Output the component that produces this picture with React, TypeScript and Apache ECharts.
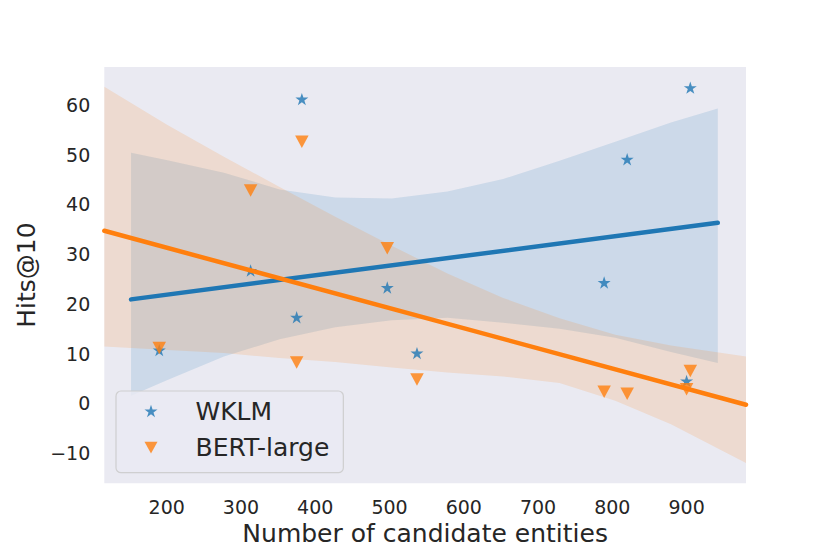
import React, { useEffect, useRef } from "react";
import * as echarts from "echarts";

// ---- data ----
const xValues = [190, 313, 375, 382, 497, 537, 789, 820, 900, 905];
const wklmHits = [10.7, 26.7, 17.3, 61.2, 23.3, 10.1, 24.3, 49.1, 4.5, 63.5];
const bertHits = [11.1, 42.8, 8.2, 52.6, 31.2, 4.8, 2.3, 1.9, 2.8, 6.5];

const wklmFitX = [152, 942];
const wklmFitY = [20.9, 36.3];
const bertFitX = [116, 980];
const bertFitY = [34.7, -0.3];

const wklmBandX = [152, 201, 277, 352, 427, 503, 578, 653, 729, 804, 879, 942];
const wklmUpper = [50.4, 48.9, 46.4, 43.0, 41.4, 41.2, 42.6, 45.1, 48.8, 52.6, 56.5, 59.3];
const wklmLower = [1.5, 4.7, 9.4, 12.9, 15.3, 16.7, 17.2, 16.2, 15.0, 13.2, 10.3, 8.1];

const bertBandX = [116, 201, 277, 352, 427, 503, 578, 653, 729, 804, 879, 980];
const bertUpper = [63.7, 56.0, 49.6, 43.5, 37.5, 31.7, 26.1, 21.2, 17.1, 13.8, 11.6, 9.4];
const bertLower = [11.4, 10.7, 10.1, 9.1, 8.3, 7.2, 6.2, 5.4, 4.1, 0.5, -4.2, -12.0];

const xTicks = [200, 300, 400, 500, 600, 700, 800, 900];
const yTicks = [-10, 0, 10, 20, 30, 40, 50, 60];

const seriesNames = ["WKLM", "BERT-large"];
const xAxisTitle = "Number of candidate entities";
const yAxisTitle = "Hits@10";

const BLUE = "#1f77b4";
const ORANGE = "#ff7f0e";
const FONT = "DejaVu Sans";
const TEXT = "#262626";

const starPath = (() => {
  let d = "";
  for (let k = 0; k < 10; k++) {
    const r = k % 2 ? 0.382 : 1;
    const a = ((-90 + k * 36) * Math.PI) / 180;
    d += (k ? "L" : "M") + (r * Math.cos(a)).toFixed(4) + "," + (r * Math.sin(a)).toFixed(4);
  }
  return "path://" + d + "Z";
})();
const triDownPath = "path://M0,0L2,0L1,1.8Z";

function band(name: string, xs: number[], up: number[], lo: number[], color: string) {
  return {
    type: "custom",
    name,
    silent: true,
    clip: true,
    data: [[xs[0], up[0]]],
    renderItem: (_p: any, api: any) => {
      const pts: number[][] = [];
      for (let i = 0; i < xs.length; i++) pts.push(api.coord([xs[i], up[i]]));
      for (let i = xs.length - 1; i >= 0; i--) pts.push(api.coord([xs[i], lo[i]]));
      return {
        type: "polygon",
        shape: { points: pts },
        style: { fill: color, opacity: 0.15 },
      };
    },
  };
}

export default function App() {
  const ref = useRef<HTMLDivElement>(null);
  useEffect(() => {
    if (!ref.current) return;
    const chart = echarts.init(ref.current, undefined, { renderer: "svg" });
    chart.setOption({
      animation: false,
      textStyle: { fontFamily: FONT },
      grid: {
        left: 104.3,
        right: 84,
        top: 67,
        bottom: 70.7,
        show: true,
        backgroundColor: "#EAEAF2",
        borderWidth: 0,
      },
      xAxis: {
        type: "value",
        min: 116,
        max: 980,
        name: xAxisTitle,
        nameLocation: "middle",
        nameGap: 38,
        nameTextStyle: { fontFamily: FONT, fontSize: 25, color: TEXT },
        axisLine: { show: false },
        axisTick: { show: false },
        splitLine: { show: false },
        axisLabel: {
          customValues: xTicks,
          fontFamily: FONT,
          fontSize: 19,
          color: TEXT,
          margin: 14,
        },
      },
      yAxis: {
        type: "value",
        min: -16.1,
        max: 67.65,
        name: yAxisTitle,
        nameLocation: "middle",
        nameGap: 64,
        nameTextStyle: { fontFamily: FONT, fontSize: 25, color: TEXT },
        axisLine: { show: false },
        axisTick: { show: false },
        splitLine: { show: false },
        axisLabel: {
          customValues: yTicks,
          fontFamily: FONT,
          fontSize: 19,
          color: TEXT,
          margin: 14,
          formatter: (v: number) => (v < 0 ? "\u2212" + Math.abs(v) : String(v)),
        },
      },
      legend: {
        data: seriesNames,
        orient: "vertical",
        left: 116,
        top: 391,
        itemWidth: 13,
        itemHeight: 13,
        itemGap: 10.7,
        padding: [7, 14, 12, 28.5],
        backgroundColor: "rgba(234,234,242,0.8)",
        borderColor: "rgba(204,204,204,0.9)",
        borderWidth: 1.2,
        borderRadius: 5,
        textStyle: {
          fontFamily: FONT,
          fontSize: 25,
          color: TEXT,
          lineHeight: 26,
          padding: [0, 0, 0, 33],
        },
      },
      series: [
        {
          type: "scatter",
          name: seriesNames[0],
          data: xValues.map((x, i) => [x, wklmHits[i]]),
          symbol: starPath,
          symbolSize: 13,
          symbolKeepAspect: true,
          itemStyle: { color: BLUE, opacity: 0.8 },
          silent: true,
        },
        band("wklm-ci", wklmBandX, wklmUpper, wklmLower, BLUE),
        {
          type: "scatter",
          name: seriesNames[1],
          data: xValues.map((x, i) => [x, bertHits[i]]),
          symbol: triDownPath,
          symbolSize: [13.5, 12.5],
          itemStyle: { color: ORANGE, opacity: 0.8 },
          silent: true,
        },
        band("bert-ci", bertBandX, bertUpper, bertLower, ORANGE),
        {
          type: "line",
          name: "wklm-fit",
          data: wklmFitX.map((x, i) => [x, wklmFitY[i]]),
          showSymbol: false,
          symbol: "none",
          silent: true,
          lineStyle: { color: BLUE, width: 4.5, cap: "round" },
        },
        {
          type: "line",
          name: "bert-fit",
          data: bertFitX.map((x, i) => [x, bertFitY[i]]),
          showSymbol: false,
          symbol: "none",
          silent: true,
          lineStyle: { color: ORANGE, width: 4.5, cap: "round" },
        },
      ],
    });
    return () => chart.dispose();
  }, []);
  return (
    <div
      ref={ref}
      style={{ position: "absolute", left: 0, top: 0, width: 830, height: 554 }}
    />
  );
}
